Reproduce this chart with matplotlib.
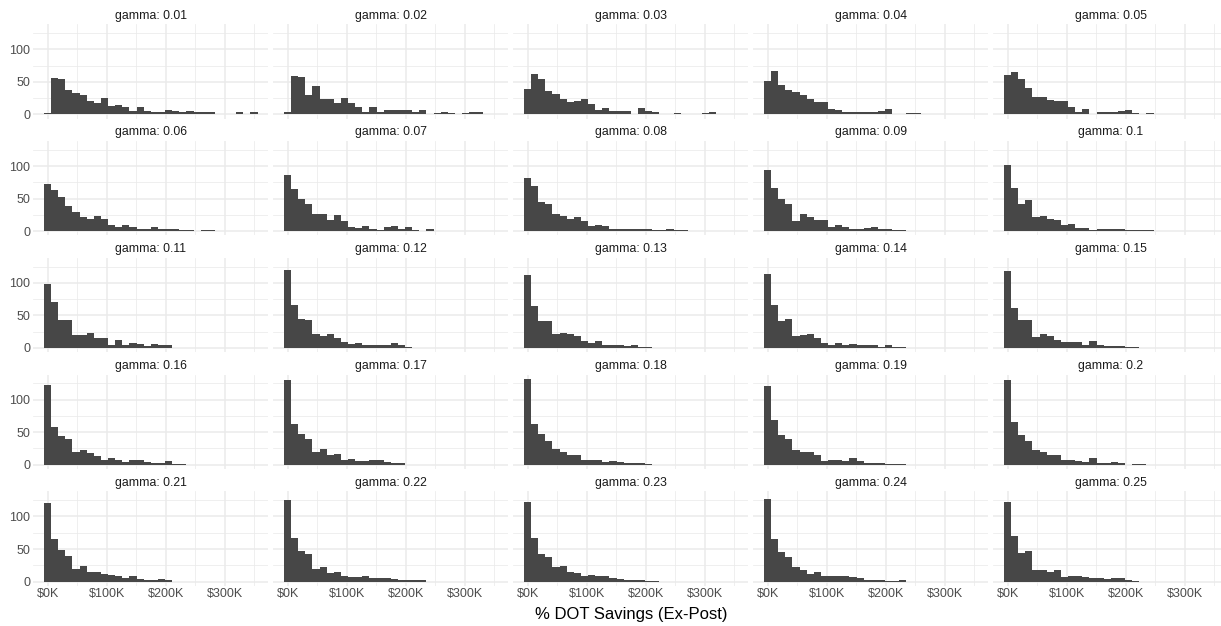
import matplotlib
matplotlib.use('Agg')
import matplotlib.pyplot as plt
import numpy as np
from matplotlib.ticker import FixedLocator, FuncFormatter

plt.rcParams['font.family'] = ['Liberation Sans', 'DejaVu Sans']

# histogram bins (thousand $): 30 bins shared by every facet
bin_start = -6.8
bin_width = 12.07
n_bins = 30

gammas = ['0.01', '0.02', '0.03', '0.04', '0.05',
          '0.06', '0.07', '0.08', '0.09', '0.1',
          '0.11', '0.12', '0.13', '0.14', '0.15',
          '0.16', '0.17', '0.18', '0.19', '0.2',
          '0.21', '0.22', '0.23', '0.24', '0.25']

g01 = [2, 56, 54, 37, 33, 29, 20, 17, 25, 13, 14, 12, 5, 11, 5, 3, 3, 7, 5, 3, 5, 3, 3, 3, 1, 1, 1, 3, 0, 3]
g02 = [3, 59, 58, 30, 43, 24, 24, 17, 25, 18, 12, 3, 12, 3, 7, 6, 6, 7, 3, 6, 1, 2, 3, 2, 1, 2, 3, 3, 0, 0]
g03 = [39, 62, 55, 36, 32, 24, 19, 21, 23, 16, 6, 9, 5, 5, 5, 0, 9, 5, 3, 1, 1, 2, 1, 0, 1, 2, 3, 0, 0, 0]
g04 = [51, 67, 45, 37, 35, 30, 24, 19, 19, 8, 6, 3, 3, 3, 3, 3, 5, 8, 0, 0, 2, 2, 0, 1, 1, 1, 0, 0, 0, 0]
g05 = [60, 65, 54, 41, 27, 26, 22, 21, 21, 11, 4, 8, 1, 4, 4, 4, 5, 6, 2, 1, 2, 0, 1, 1, 0, 0, 0, 0, 0, 0]
g06 = [73, 63, 52, 39, 30, 21, 18, 23, 19, 9, 7, 9, 6, 3, 3, 7, 3, 3, 4, 1, 2, 0, 2, 1, 0, 0, 0, 0, 0, 0]
g07 = [86, 65, 49, 42, 27, 26, 17, 25, 15, 6, 5, 8, 3, 2, 7, 8, 3, 6, 2, 0, 3, 0, 0, 0, 0, 0, 0, 0, 0, 0]
g08 = [81, 69, 45, 42, 26, 24, 19, 22, 16, 8, 9, 8, 4, 4, 4, 4, 3, 4, 2, 1, 3, 1, 1, 0, 0, 0, 0, 0, 0, 0]
g09 = [94, 66, 49, 42, 15, 26, 22, 17, 17, 7, 9, 7, 4, 4, 5, 6, 4, 3, 1, 1, 0, 0, 0, 0, 0, 0, 0, 0, 0, 0]
g10 = [102, 66, 42, 48, 22, 24, 19, 17, 9, 11, 5, 5, 2, 4, 4, 4, 4, 1, 1, 1, 1, 0, 0, 0, 0, 0, 0, 0, 0, 0]
g11 = [98, 71, 43, 43, 20, 20, 23, 15, 16, 4, 12, 4, 7, 6, 3, 6, 4, 4, 0, 0, 0, 0, 0, 0, 0, 0, 0, 0, 0, 0]
g12 = [120, 66, 44, 43, 21, 18, 22, 15, 9, 6, 8, 5, 5, 5, 5, 7, 4, 1, 0, 0, 0, 0, 0, 0, 0, 0, 0, 0, 0, 0]
g13 = [112, 65, 41, 41, 21, 23, 21, 19, 11, 7, 10, 4, 4, 4, 3, 4, 2, 2, 0, 0, 0, 0, 0, 0, 0, 0, 0, 0, 0, 0]
g14 = [113, 66, 41, 45, 19, 20, 22, 15, 8, 5, 8, 5, 6, 4, 4, 4, 2, 4, 2, 1, 0, 0, 0, 0, 0, 0, 0, 0, 0, 0]
g15 = [118, 61, 43, 43, 17, 22, 19, 12, 9, 9, 9, 4, 11, 4, 3, 3, 3, 2, 1, 0, 0, 0, 0, 0, 0, 0, 0, 0, 0, 0]
g16 = [123, 58, 44, 40, 20, 22, 18, 14, 7, 10, 7, 4, 7, 7, 4, 2, 2, 5, 1, 1, 0, 0, 0, 0, 0, 0, 0, 0, 0, 0]
g17 = [130, 62, 48, 40, 19, 24, 15, 17, 7, 9, 5, 5, 7, 8, 4, 3, 2, 0, 0, 0, 0, 0, 0, 0, 0, 0, 0, 0, 0, 0]
g18 = [132, 63, 48, 37, 24, 20, 15, 15, 7, 8, 8, 4, 6, 4, 3, 3, 3, 1, 0, 0, 0, 0, 0, 0, 0, 0, 0, 0, 0, 0]
g19 = [121, 68, 45, 39, 22, 19, 19, 15, 5, 8, 8, 5, 10, 5, 2, 2, 3, 1, 1, 1, 0, 0, 0, 0, 0, 0, 0, 0, 0, 0]
g20 = [131, 65, 45, 37, 22, 20, 15, 15, 8, 7, 6, 4, 11, 3, 3, 4, 3, 0, 1, 1, 0, 0, 0, 0, 0, 0, 0, 0, 0, 0]
g21 = [121, 65, 49, 40, 20, 24, 15, 15, 12, 10, 9, 5, 8, 4, 3, 3, 4, 2, 0, 0, 0, 0, 0, 0, 0, 0, 0, 0, 0, 0]
g22 = [125, 67, 47, 42, 19, 22, 13, 14, 9, 7, 7, 9, 5, 5, 5, 4, 3, 2, 2, 3, 0, 0, 0, 0, 0, 0, 0, 0, 0, 0]
g23 = [123, 67, 43, 38, 23, 24, 15, 13, 9, 10, 8, 8, 5, 4, 3, 3, 3, 1, 1, 0, 0, 0, 0, 0, 0, 0, 0, 0, 0, 0]
g24 = [127, 65, 45, 38, 22, 18, 12, 15, 8, 8, 8, 9, 7, 5, 3, 2, 2, 1, 1, 3, 0, 0, 0, 0, 0, 0, 0, 0, 0, 0]
g25 = [122, 70, 44, 47, 18, 17, 14, 17, 7, 9, 9, 7, 6, 6, 4, 5, 5, 2, 1, 0, 0, 0, 0, 0, 0, 0, 0, 0, 0, 0]

counts = [g01, g02, g03, g04, g05, g06, g07, g08, g09, g10,
          g11, g12, g13, g14, g15, g16, g17, g18, g19, g20,
          g21, g22, g23, g24, g25]

x_major = [0, 100, 200, 300]
x_minor = [50, 150, 250, 350]
y_major = [0, 50, 100]
y_minor = [25, 75, 125]

W, H = 1221, 626
fig = plt.figure(figsize=(W / 100, H / 100), dpi=100)
fig.patch.set_facecolor('white')

edges = bin_start + bin_width * np.arange(n_bins + 1)
span = edges[-1] - edges[0]
xlim = (edges[0] - 0.05 * span, edges[-1] + 0.05 * span)
ymax = max(max(c) for c in counts)
ylim = (-0.05 * ymax, 1.05 * ymax)

# panel layout in pixels (the reference is cut on the right edge)
left0, col_step, panel_w = 33.3, 240.0, 235.0
top0, row_step, panel_h = 24.2, 116.8, 94.4

grid_col = '#EBEBEB'
for i, (g, c) in enumerate(zip(gammas, counts)):
    r, k = divmod(i, 5)
    lx = left0 + k * col_step
    ty = top0 + r * row_step
    ax = fig.add_axes([lx / W, 1 - (ty + panel_h) / H, panel_w / W, panel_h / H])
    ax.set_xlim(*xlim)
    ax.set_ylim(*ylim)
    ax.xaxis.set_major_locator(FixedLocator(x_major))
    ax.xaxis.set_minor_locator(FixedLocator(x_minor))
    ax.yaxis.set_major_locator(FixedLocator(y_major))
    ax.yaxis.set_minor_locator(FixedLocator(y_minor))
    ax.grid(which='major', color=grid_col, linewidth=1.1)
    ax.grid(which='minor', color=grid_col, linewidth=0.55)
    ax.set_axisbelow(True)
    for s in ax.spines.values():
        s.set_visible(False)
    ax.tick_params(which='both', length=0, labelsize=9, labelcolor='#4D4D4D')
    ax.tick_params(axis='y', pad=2.2)
    ax.tick_params(axis='x', pad=1.5)
    ax.xaxis.set_major_formatter(FuncFormatter(lambda v, p: '$%dK' % v))
    if r < 4:
        ax.set_xticklabels([])
    if k > 0:
        ax.set_yticklabels([])
    ax.stairs(c, edges, fill=True, color='#474747', linewidth=0)
    ax.set_title('gamma: ' + g, fontsize=8.8, color='#1A1A1A', pad=4)

fig.text((left0 + (4 * col_step + panel_w) / 2) / W, 1 - 615 / H,
         '% DOT Savings (Ex-Post)', ha='center', va='center', fontsize=12)

fig.savefig('out.png', dpi=100)
